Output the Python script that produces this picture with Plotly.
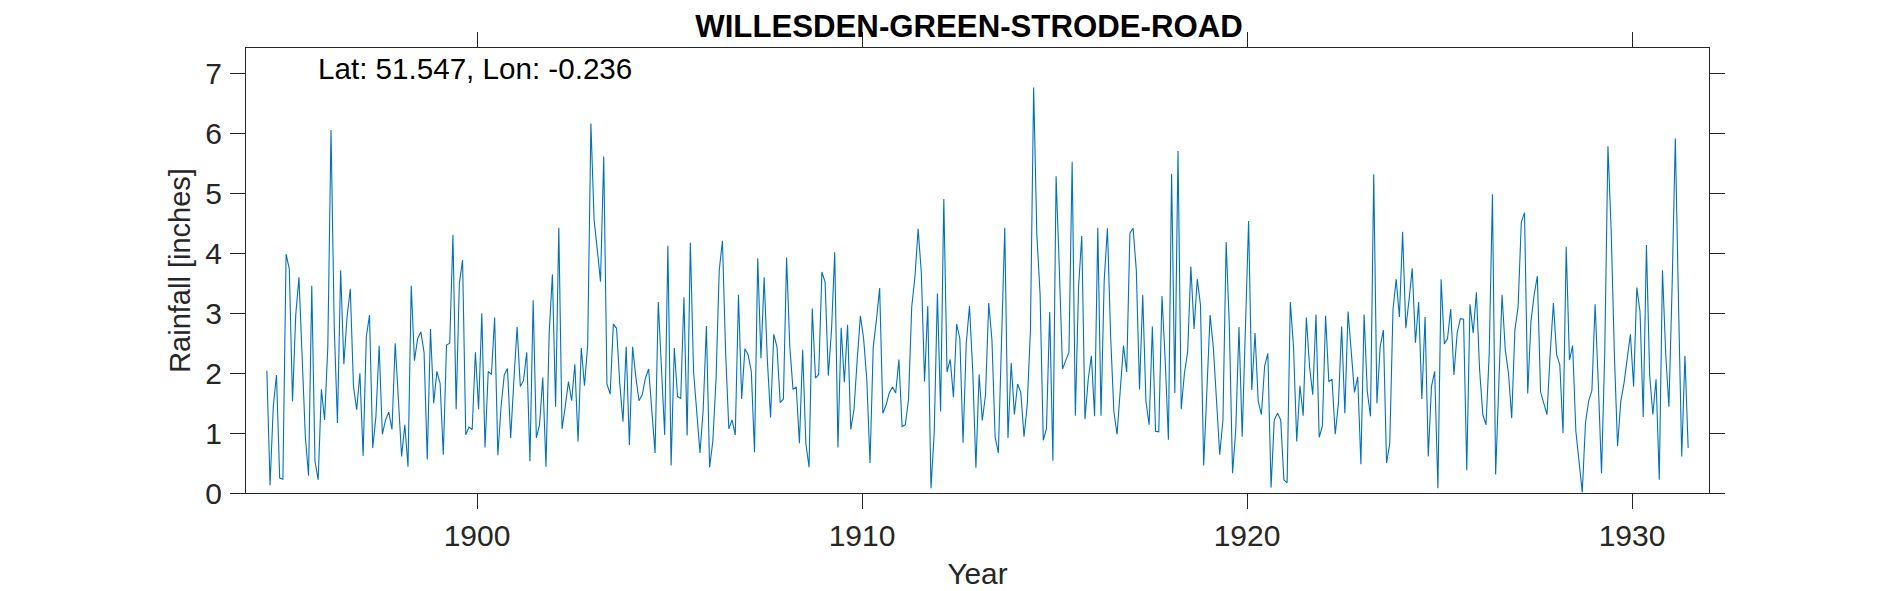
import numpy as np
import plotly.graph_objects as go

start_year = 1894 + 6.5 / 12
rainfall = [
    2.04, 0.13, 1.44, 1.97, 0.25, 0.23, 3.99, 3.74, 1.53, 2.97, 3.60, 2.39,
    0.94, 0.29, 3.46, 0.53, 0.22, 1.73, 1.22, 2.44, 6.06, 2.78, 1.17, 3.72,
    2.15, 2.94, 3.41, 1.78, 1.39, 2.00, 0.62, 2.61, 2.97, 0.75, 1.28, 2.46,
    0.98, 1.22, 1.35, 1.06, 2.50, 1.56, 0.61, 1.14, 0.44, 3.46, 2.21, 2.58,
    2.69, 2.35, 0.56, 2.74, 1.50, 2.03, 1.83, 0.64, 2.47, 2.50, 4.31, 1.40,
    3.50, 3.89, 0.97, 1.10, 1.06, 2.35, 1.40, 3.00, 0.76, 2.03, 1.98, 2.93,
    0.63, 1.44, 1.97, 2.08, 0.92, 1.89, 2.77, 1.78, 1.88, 2.35, 0.53, 3.22,
    0.92, 1.14, 1.93, 0.44, 2.67, 3.65, 1.44, 4.43, 1.07, 1.44, 1.86, 1.54,
    2.15, 0.86, 2.42, 1.79, 2.47, 6.17, 4.56, 4.06, 3.53, 5.62, 1.82, 1.65,
    2.82, 2.75, 1.83, 1.19, 2.44, 0.80, 2.44, 1.94, 1.54, 1.64, 1.92, 2.07,
    1.39, 0.67, 3.19, 2.17, 0.97, 4.13, 0.46, 2.42, 1.61, 1.58, 3.27, 0.96,
    4.18, 2.03, 1.33, 0.67, 1.39, 2.79, 0.43, 0.86, 1.89, 3.72, 4.21, 2.33,
    1.07, 1.22, 0.97, 3.31, 1.57, 2.41, 2.31, 2.03, 0.68, 3.92, 2.25, 3.60,
    2.22, 1.26, 2.65, 2.44, 1.51, 1.57, 3.93, 2.44, 1.73, 1.77, 0.83, 2.39,
    0.83, 0.43, 3.08, 1.92, 1.98, 3.69, 3.52, 1.96, 2.72, 4.02, 0.76, 2.76,
    1.85, 2.81, 1.06, 1.39, 2.22, 2.96, 2.58, 1.89, 0.50, 2.44, 2.89, 3.42,
    1.33, 1.47, 1.67, 1.77, 1.67, 2.23, 1.11, 1.14, 1.56, 3.11, 3.61, 4.41,
    3.67, 1.86, 3.12, 0.08, 1.00, 3.33, 1.36, 4.91, 2.02, 2.23, 1.60, 2.82,
    2.58, 0.84, 2.50, 3.12, 2.06, 0.42, 1.98, 1.21, 1.64, 3.17, 2.56, 0.93,
    0.67, 2.44, 4.43, 0.92, 2.17, 1.31, 1.82, 1.68, 0.94, 1.47, 2.72, 6.77,
    4.31, 3.33, 0.88, 1.08, 3.02, 0.54, 5.29, 3.75, 2.07, 2.21, 2.35, 5.53,
    1.29, 3.44, 4.29, 1.23, 1.89, 2.29, 1.28, 4.43, 1.29, 3.56, 4.42, 2.61,
    1.36, 0.98, 1.78, 2.46, 2.02, 4.34, 4.42, 3.72, 1.73, 3.31, 1.53, 1.14,
    2.78, 1.03, 1.02, 3.29, 2.22, 0.89, 5.33, 1.67, 5.71, 1.40, 2.00, 2.36,
    3.78, 2.74, 3.57, 3.14, 0.46, 1.78, 2.97, 2.44, 1.47, 0.64, 1.22, 4.19,
    2.78, 0.33, 1.06, 2.77, 0.94, 2.89, 4.54, 1.72, 2.67, 1.53, 1.31, 2.12,
    2.33, 0.09, 1.22, 1.33, 1.22, 0.22, 0.17, 3.19, 2.44, 0.86, 1.79, 1.29,
    2.93, 2.11, 1.64, 2.98, 0.93, 1.12, 2.96, 1.86, 1.90, 0.98, 1.50, 2.78,
    1.33, 3.03, 2.39, 1.68, 1.94, 0.48, 2.98, 1.69, 1.28, 5.32, 1.50, 2.44,
    2.72, 0.50, 0.83, 3.06, 3.57, 2.94, 4.36, 2.75, 3.22, 3.75, 2.51, 3.19,
    1.57, 2.94, 0.61, 1.78, 2.03, 0.08, 3.57, 2.49, 2.58, 3.07, 1.97, 2.67,
    2.91, 2.90, 0.38, 3.15, 2.67, 3.35, 2.06, 1.31, 1.14, 2.33, 4.99, 0.31,
    1.83, 3.31, 2.39, 2.00, 1.25, 2.72, 3.11, 4.52, 4.68, 1.66, 2.86, 3.31,
    3.62, 1.69, 1.50, 1.31, 2.33, 3.17, 2.31, 2.14, 1.00, 4.11, 2.22, 2.46,
    1.03, 0.56, 0.01, 1.17, 1.54, 1.71, 3.15, 1.83, 0.33, 2.33, 5.79, 4.39,
    2.33, 0.78, 1.53, 1.83, 2.22, 2.65, 1.78, 3.43, 3.03, 1.27, 4.14, 1.97,
    1.31, 1.90, 0.22, 3.72, 2.33, 1.44, 3.44, 5.92, 3.17, 0.61, 2.29, 0.75,
]
years = start_year + np.arange(len(rainfall)) / 12

x_ticks = [1900, 1910, 1920, 1930]
y_ticks = [0, 1, 2, 3, 4, 5, 6, 7]
title_text = "WILLESDEN-GREEN-STRODE-ROAD"
note_text = "Lat: 51.547, Lon: -0.236"

AXIS = "#262626"
FONT = "Liberation Sans, Arial, Helvetica, sans-serif"

fig = go.Figure(go.Scatter(x=years, y=rainfall, mode="lines",
                           line=dict(color="#0072BD", width=1.1), showlegend=False))

axis_common = dict(showline=True, linecolor=AXIS, linewidth=1, mirror="ticks",
                   ticks="outside", ticklen=15, tickwidth=1, tickcolor=AXIS,
                   showgrid=False, zeroline=False, automargin=False,
                   tickfont=dict(family=FONT, size=30, color=AXIS))

fig.update_xaxes(range=[1894, 1932], tickvals=x_ticks, ticklabelstandoff=1,
                 title=dict(text="Year", font=dict(family=FONT, size=29.8, color=AXIS), standoff=12),
                 **axis_common)
fig.update_yaxes(range=[0, 7.43], tickvals=y_ticks, ticklabelstandoff=2,
                 title=dict(text="Rainfall [inches]", font=dict(family=FONT, size=29, color=AXIS), standoff=6),
                 **axis_common)

fig.update_layout(
    width=1890, height=591, autosize=False,
    margin=dict(l=246.3, r=180.7, t=47.5, b=97.7, pad=0, autoexpand=False),
    paper_bgcolor="white", plot_bgcolor="white",
    font=dict(family=FONT),
    title=dict(text="<b>" + title_text + "</b>", x=969 / 1890, xanchor="center",
               y=1 - 26 / 591, yanchor="middle",
               font=dict(family=FONT, size=31.2, color="black")),
    annotations=[dict(text=note_text, xref="paper", yref="paper",
                      x=(316 - 246.3) / 1463, y=1 - (68 - 47.5) / 445.8,
                      xanchor="left", yanchor="middle", showarrow=False,
                      font=dict(family=FONT, size=29.6, color="black"))],
)

fig.write_html("out.html", config=dict(displayModeBar=False),
               post_script="document.body.style.margin='0';")
